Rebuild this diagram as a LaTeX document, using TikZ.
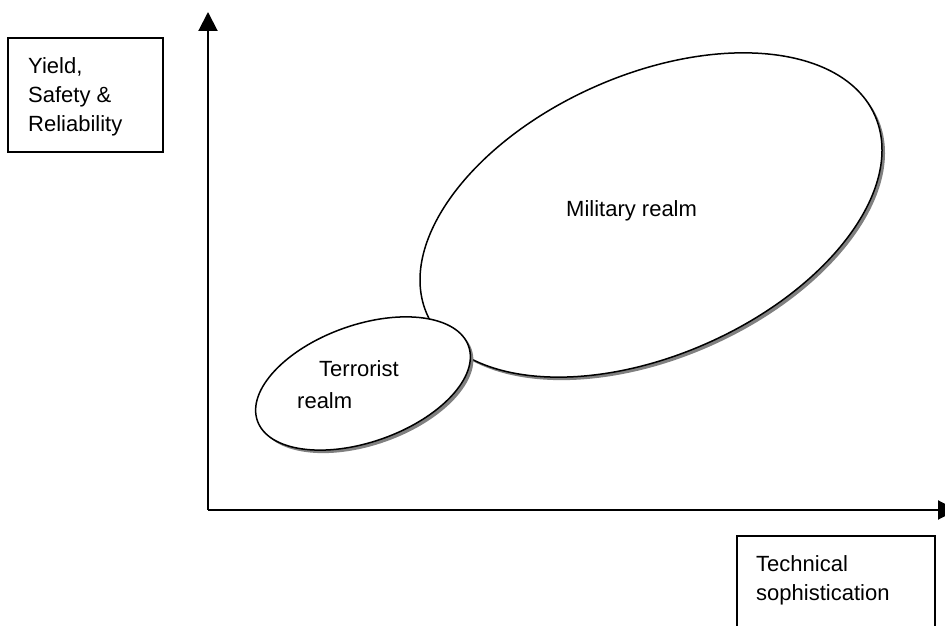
\documentclass[tikz,border=0pt]{standalone}
\usepackage{fontspec}
\setmainfont{Liberation Sans}
\usepackage{tikz}
\usetikzlibrary{calc}
\usetikzlibrary{arrows.meta}

\tikzset{
axis/.style = {line width=2pt,-{Triangle[length=19pt,width=19pt]}},
labelbox/.style = {line width=1.5pt},
realm/.style = {line width=1.5pt,fill=white},
realmshadow/.style = {fill=black!50},
txt/.style = {anchor=base west,inner sep=0pt,font=\fontsize{22}{29}\selectfont}
}

\begin{document}
\begin{tikzpicture}[x=1pt,y=1pt]

\useasboundingbox (0,0) rectangle (945,626);
\clip (0,0) rectangle (945,626);

\def\shoff{3,-3}
\def\lw{1.5pt}

\coordinate (o) at (208,116);
\coordinate (ytop) at (208,614);
\coordinate (xend) at (957,116);

\draw[axis] (o) -- (ytop);
\draw[axis] (o) -- (xend);

% axis labels
\draw[labelbox] (8,588) rectangle (163,474);
\node[txt] (yl1) at (28,552) {Yield,};
\node[txt] (yl2) at (28,523) {Safety \&};
\node[txt] (yl3) at (28,494) {Reliability};

\draw[labelbox] (737,90) rectangle (935,-10);
\node[txt] (xl1) at (756,54) {Technical};
\node[txt] (xl2) at (756,25) {sophistication};

% military
\coordinate (mil) at (651,411);
\fill[realmshadow] ($(mil)+(\shoff)$) ellipse [x radius=245,y radius=140,rotate=24];
\draw[realm] (mil) ellipse [x radius=245,y radius=140,rotate=24];
\node[txt] (miltxt) at (566,409) {Military realm};

% terrorist
\coordinate (ter) at (363,242.5);
\fill[realmshadow] ($(ter)+(\shoff)$) ellipse [x radius=112,y radius=58.5,rotate=19.5];
\draw[realm] (ter) ellipse [x radius=112,y radius=58.5,rotate=19.5];
\node[txt] (tertxt1) at (319,249) {Terrorist};
\node[txt] (tertxt2) at (297,217) {realm};

\end{tikzpicture}
\end{document}
